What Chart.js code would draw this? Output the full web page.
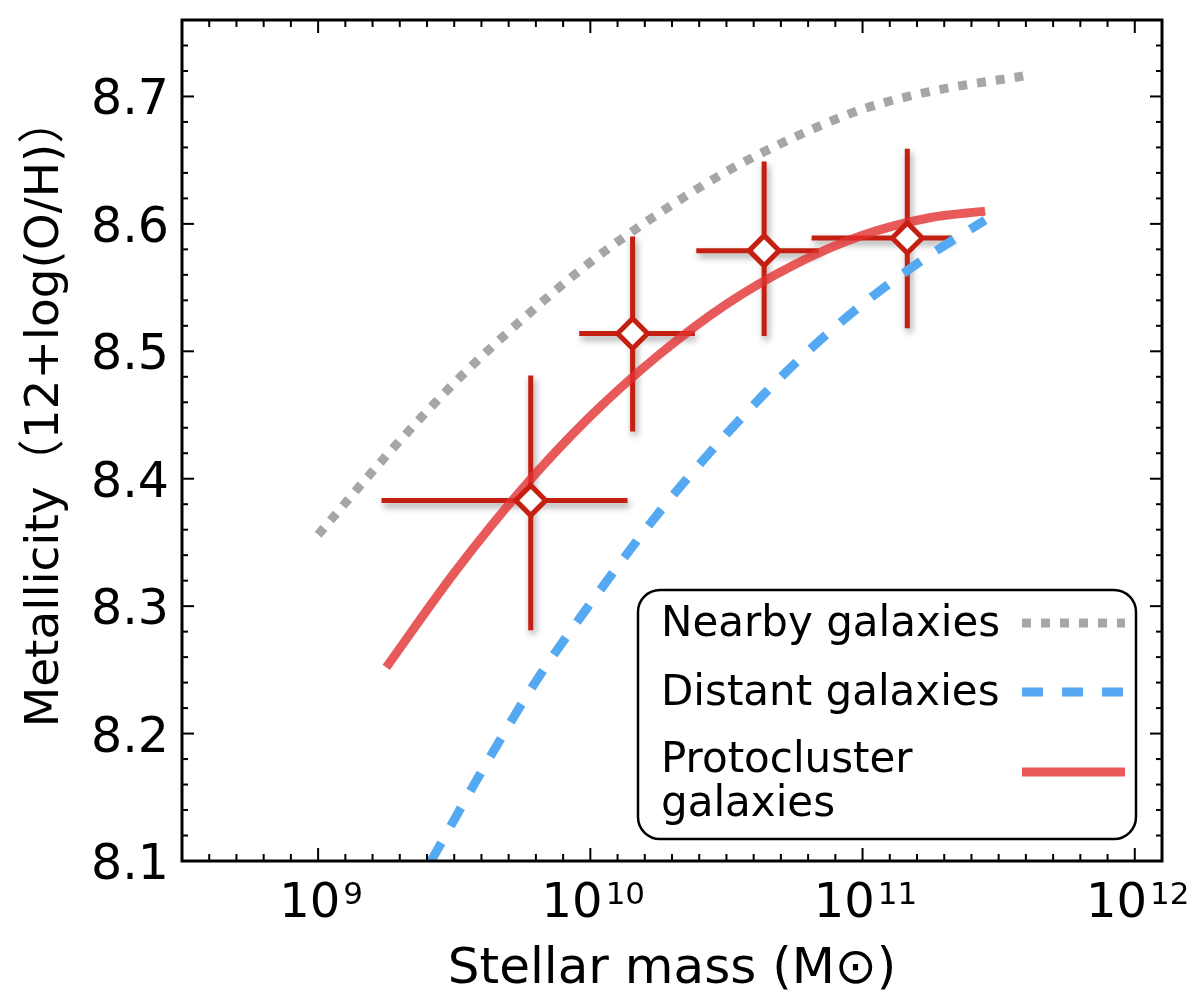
<!DOCTYPE html>
<html><head><meta charset="utf-8">
<script src="https://cdn.jsdelivr.net/npm/chart.js@4.4.1/dist/chart.umd.min.js"></script>
<style>html,body{margin:0;padding:0;background:#fff}canvas{display:block}</style>
</head><body>
<canvas id="c" width="1190" height="995"></canvas>
<script>
// ---------------- data ----------------
// Protocluster galaxy measurements (stellar mass in Msun, metallicity 12+log(O/H))
const pointMass   = [6.04e9, 1.43e10, 4.35e10, 1.46e11];
const pointMassLo = [1.71e9, 9.1e9,   2.45e10, 6.5e10];
const pointMassHi = [1.37e10, 2.42e10, 6.9e10, 2.13e11];
const pointZ      = [8.383, 8.514, 8.579, 8.589];
const pointZLo    = [8.281, 8.437, 8.512, 8.518];
const pointZHi    = [8.481, 8.590, 8.649, 8.659];

// Nearby galaxies relation (grey dotted)
const nearbyMass = [1.0e9, 1.78e9, 3.16e9, 5.62e9, 1.0e10, 1.78e10, 3.16e10, 5.62e10, 1.0e11, 1.78e11, 3.89e11];
const nearbyZ    = [8.356, 8.418, 8.475, 8.525, 8.570, 8.608, 8.641, 8.668, 8.690, 8.704, 8.716];

// Distant galaxies relation (blue dashed)
const distantMass = [2.6e9, 3.98e9, 6.31e9, 1.0e10, 1.78e10, 3.16e10, 5.62e10, 1.0e11, 1.78e11, 2.82e11];
const distantZ    = [8.100, 8.170, 8.241, 8.302, 8.373, 8.435, 8.490, 8.537, 8.576, 8.603];

// Protocluster galaxies relation (red solid)
const protoMass = [1.78e9, 3.16e9, 5.62e9, 1.0e10, 1.78e10, 3.16e10, 5.62e10, 1.0e11, 1.78e11, 2.82e11];
const protoZ    = [8.252, 8.326, 8.392, 8.449, 8.497, 8.537, 8.568, 8.591, 8.605, 8.610];

// axes / ticks / labels
const xMinExp = 8.5, xMaxExp = 12.1, xMinorStep = 0.1;
const xTickExponents = [9, 10, 11, 12];
const yMin = 8.1, yMax = 8.76, yMinorStep = 0.02;
const yTickValues = [8.1, 8.2, 8.3, 8.4, 8.5, 8.6, 8.7];
const yTickLabels = ['8.1', '8.2', '8.3', '8.4', '8.5', '8.6', '8.7'];
const xTitle = 'Stellar mass (M\u2299)';
const yTitle = 'Metallicity\uFF0812+log(O/H)\uFF09';
const legendLabels = [['Nearby galaxies'], ['Distant galaxies'], ['Protocluster', 'galaxies']];

// ---------------- styles ----------------
const FONT = '"DejaVu Sans", "Noto Sans CJK JP", sans-serif';
const barRed = '#C51F12';
const curveRed = 'rgba(226,49,49,0.8)';
const grey = '#A6A6A6';
const blue = '#55A9F2';

const zip = (xs, ys) => xs.map((x, i) => ({x: x, y: ys[i]}));

const curveNearby = {label: legendLabels[0].join(' '), data: zip(nearbyMass, nearbyZ), showLine: true,
  pointRadius: 0, borderColor: grey, borderWidth: 9, borderDash: [9, 10], borderCapStyle: 'butt',
  cubicInterpolationMode: 'monotone', fill: false, order: 3};
const curveDistant = {label: legendLabels[1].join(' '), data: zip(distantMass, distantZ), showLine: true,
  pointRadius: 0, borderColor: blue, borderWidth: 9, borderDash: [21, 19], borderCapStyle: 'butt',
  cubicInterpolationMode: 'monotone', fill: false, order: 2};
const curveProto = {label: legendLabels[2].join(' '), data: zip(protoMass, protoZ), showLine: true,
  pointRadius: 0, borderColor: curveRed, borderWidth: 9, borderCapStyle: 'butt',
  cubicInterpolationMode: 'monotone', fill: false, order: 1};
const measured = {label: 'Protocluster measurements', data: zip(pointMass, pointZ), showLine: false,
  pointStyle: 'rectRot', pointRadius: 15, pointBorderWidth: 5, pointBackgroundColor: '#ffffff',
  pointBorderColor: barRed, order: 0};

function line(ctx, x1, y1, x2, y2) { ctx.beginPath(); ctx.moveTo(x1, y1); ctx.lineTo(x2, y2); ctx.stroke(); }
function text(ctx, s, x, y, size, align) {
  ctx.font = size + 'px ' + FONT; ctx.textAlign = align || 'left'; ctx.textBaseline = 'alphabetic';
  ctx.fillStyle = '#000'; ctx.fillText(s, x, y);
}

const paper = {
  id: 'paper',
  beforeDraw(chart) {
    const ctx = chart.ctx; ctx.save(); ctx.fillStyle = '#fff';
    ctx.fillRect(0, 0, chart.width, chart.height); ctx.restore();
  },
  beforeDatasetsDraw(chart) {
    const ctx = chart.ctx, xs = chart.scales.x, ys = chart.scales.y;
    ctx.save();
    ctx.strokeStyle = barRed; ctx.lineWidth = 5; ctx.lineCap = 'butt';
    ctx.shadowColor = 'rgba(0,0,0,0.4)'; ctx.shadowBlur = 7; ctx.shadowOffsetX = 2; ctx.shadowOffsetY = 4;
    for (let i = 0; i < pointMass.length; i++) {
      const px = xs.getPixelForValue(pointMass[i]), py = ys.getPixelForValue(pointZ[i]);
      line(ctx, xs.getPixelForValue(pointMassLo[i]), py, xs.getPixelForValue(pointMassHi[i]), py);
      line(ctx, px, ys.getPixelForValue(pointZLo[i]), px, ys.getPixelForValue(pointZHi[i]));
    }
    ctx.restore();
  },
  afterDraw(chart) {
    const ctx = chart.ctx, xs = chart.scales.x, ys = chart.scales.y, a = chart.chartArea;
    ctx.save();
    // frame
    ctx.strokeStyle = '#000'; ctx.lineWidth = 3;
    ctx.strokeRect(a.left, a.top, a.right - a.left, a.bottom - a.top);
    // ticks (inward, mirrored)
    ctx.lineWidth = 2;
    const nx = Math.round((xMaxExp - xMinExp) / xMinorStep);
    for (let k = 0; k <= nx; k++) {
      const e = xMinExp + k * xMinorStep;
      const px = xs.getPixelForValue(Math.pow(10, e));
      const major = Math.abs(e - Math.round(e)) < 1e-6;
      const L = major ? 13 : 7;
      line(ctx, px, a.bottom, px, a.bottom - L);
      line(ctx, px, a.top, px, a.top + L);
    }
    const ny = Math.round((yMax - yMin) / yMinorStep);
    for (let k = 0; k <= ny; k++) {
      const v = yMin + k * yMinorStep;
      const py = ys.getPixelForValue(v);
      const major = k % 5 === 0;
      const L = major ? 12 : 6;
      line(ctx, a.left, py, a.left + L, py);
      line(ctx, a.right, py, a.right - L, py);
    }
    // y tick labels
    yTickValues.forEach((v, i) => {
      text(ctx, yTickLabels[i], a.left - 13, ys.getPixelForValue(v) + 18, 49, 'right');
    });
    // x tick labels 10^n
    xTickExponents.forEach(e => {
      const px = xs.getPixelForValue(Math.pow(10, e));
      ctx.font = '48px ' + FONT; const w1 = ctx.measureText('10').width;
      ctx.font = '31px ' + FONT; const w2 = ctx.measureText(String(e)).width;
      const gap = 3, x0 = px - (w1 + gap + w2) / 2 + 3;
      text(ctx, '10', x0, a.bottom + 56, 48, 'left');
      text(ctx, String(e), x0 + w1 + gap, a.bottom + 43, 31, 'left');
    });
    // axis titles
    text(ctx, xTitle, (a.left + a.right) / 2, a.bottom + 122, 50, 'center');
    ctx.save();
    ctx.translate(a.left - 124, a.top + 392);
    ctx.rotate(-Math.PI / 2);
    text(ctx, yTitle, 0, 0, 47, 'center');
    ctx.restore();
    // legend
    const L = a.left + 456, R = a.right - 26, T = a.bottom - 271, B = a.bottom - 22, r = 22;
    ctx.lineWidth = 2.5; ctx.strokeStyle = '#000';
    ctx.beginPath();
    ctx.moveTo(L + r, T); ctx.arcTo(R, T, R, B, r); ctx.arcTo(R, B, L, B, r);
    ctx.arcTo(L, B, L, T, r); ctx.arcTo(L, T, R, T, r); ctx.closePath(); ctx.stroke();
    const entries = [curveNearby, curveDistant, curveProto];
    const baselines = [[T + 46], [T + 115], [T + 182, T + 226]];
    const sampleY = [T + 33, T + 102, T + 182];
    entries.forEach((ds, i) => {
      legendLabels[i].forEach((s, j) => text(ctx, s, L + 23, baselines[i][j], 42, 'left'));
      ctx.save();
      ctx.strokeStyle = ds.borderColor; ctx.lineWidth = ds.borderWidth; ctx.lineCap = 'butt';
      ctx.setLineDash(ds.borderDash || []);
      line(ctx, L + 384, sampleY[i], L + 487, sampleY[i]);
      ctx.restore();
    });
    ctx.restore();
  }
};

new Chart(document.getElementById('c').getContext('2d'), {
  type: 'scatter',
  data: {datasets: [measured, curveProto, curveDistant, curveNearby]},
  options: {
    responsive: false, animation: false, events: [],
    layout: {padding: {left: 182, top: 9, right: 28, bottom: 134}},
    scales: {
      x: {type: 'logarithmic', min: Math.pow(10, xMinExp), max: Math.pow(10, xMaxExp), display: false},
      y: {type: 'linear', min: yMin, max: yMax, display: false}
    },
    plugins: {legend: {display: false}, tooltip: {enabled: false}}
  },
  plugins: [paper]
});
</script>
</body></html>
